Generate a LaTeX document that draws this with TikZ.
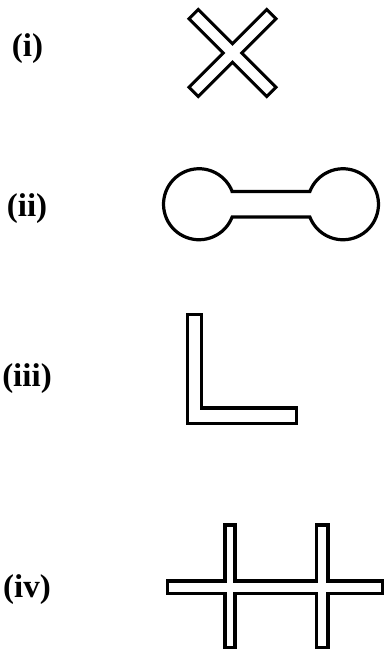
\documentclass[tikz,border=0pt]{standalone}
\usepackage{fontspec}
\setmainfont{Liberation Serif}
\begin{document}
\begin{tikzpicture}[x=1pt,y=1pt,
  outline/.style={draw=black,line width=3.2pt,line join=miter},
  lbl/.style={font=\fontsize{33}{33}\selectfont\bfseries,anchor=base,inner sep=0pt}]
\useasboundingbox (0,0) rectangle (385,652);
% labels (Y = 652 - y)
\node[lbl] (li) at (27.5,652-56.5) {(i)};
\node[lbl] (lii) at (27,652-216.5) {(ii)};
\node[lbl] (liii) at (27,652-386.5) {(iii)};
\node[lbl] (liv) at (27,652-597.5) {(iv)};
% (i) X shape
\begin{scope}[shift={(232.5,652-53)},rotate=45]
\draw[outline,line width=3pt] (6.5,6.5) -- (55,6.5) -- (55,-6.5) -- (6.5,-6.5) -- (6.5,-55) -- (-6.5,-55)
  -- (-6.5,-6.5) -- (-55,-6.5) -- (-55,6.5) -- (-6.5,6.5) -- (-6.5,55) -- (6.5,55) -- cycle;
\end{scope}
% (ii) dumbbell
\begin{scope}[shift={(0,652-204.25)}]
\draw[outline] (199+33.16,12.75) -- (343-33.16,12.75)
  arc[start angle=158.94, end angle=-158.94, radius=35.5pt]
  -- (199+33.16,-12.75)
  arc[start angle=-21.06, end angle=-338.94, radius=35.5pt] -- cycle;
\end{scope}
% (iii) L shape
\draw[outline] (187.5,652-314.5) -- (201.5,652-314.5) -- (201.5,652-408) -- (296.5,652-408)
  -- (296.5,652-423.5) -- (187.5,652-423.5) -- cycle;
% (iv) double cross
\draw[outline] (167.5,652-581) -- (225,652-581) -- (225,652-525) -- (235,652-525) -- (235,652-581)
  -- (316.5,652-581) -- (316.5,652-525) -- (328,652-525) -- (328,652-581) -- (382.5,652-581)
  -- (382.5,652-593.5) -- (328,652-593.5) -- (328,652-647.5) -- (316.5,652-647.5) -- (316.5,652-593.5)
  -- (235,652-593.5) -- (235,652-647.5) -- (225,652-647.5) -- (225,652-593.5) -- (167.5,652-593.5) -- cycle;
\end{tikzpicture}
\end{document}
